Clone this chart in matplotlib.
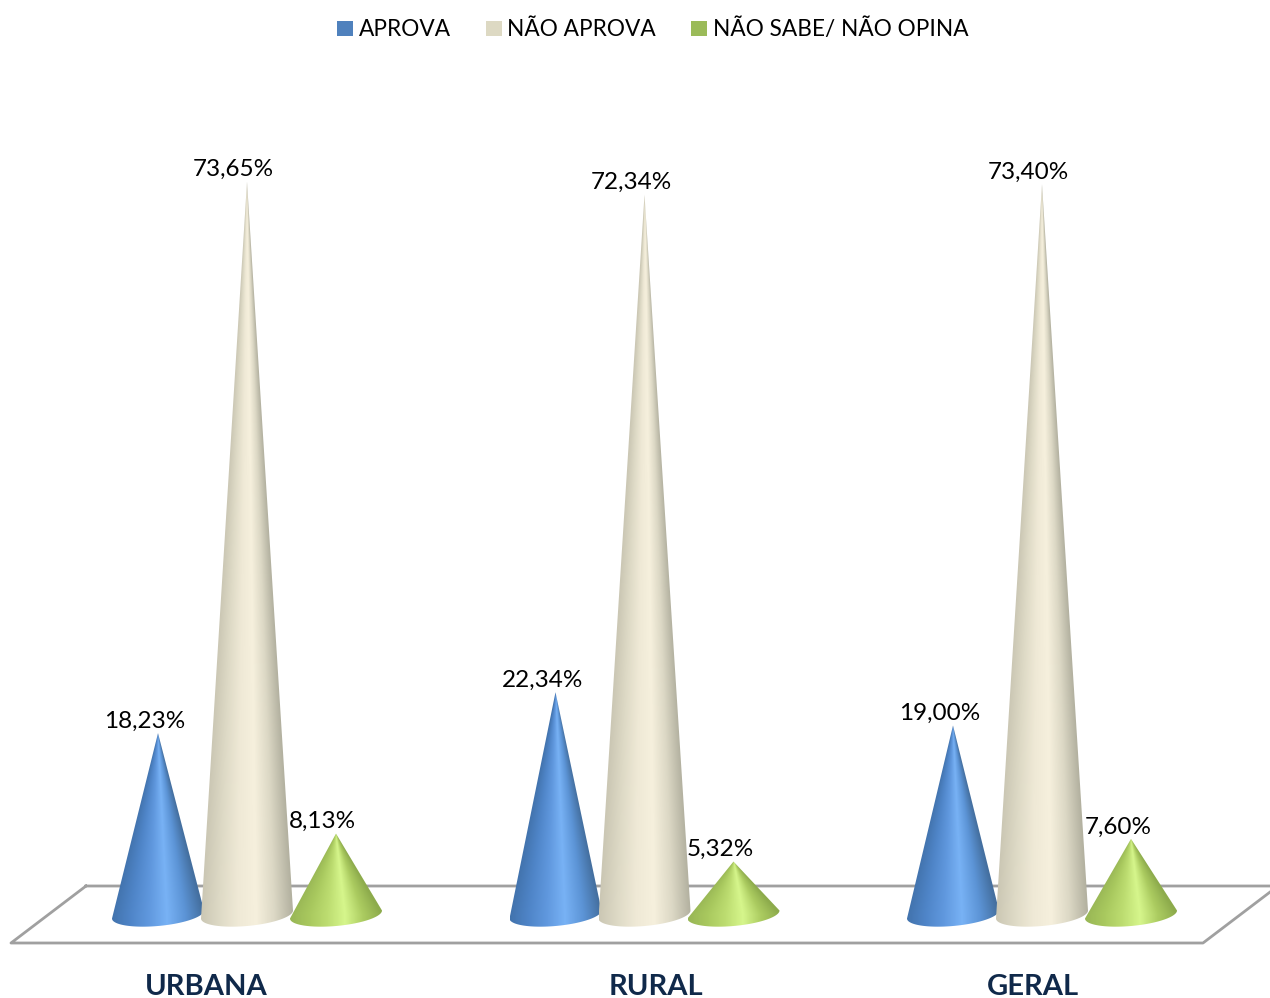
import numpy as np
import matplotlib
matplotlib.use("Agg")
import matplotlib.pyplot as plt
from matplotlib.colors import LinearSegmentedColormap
from matplotlib.patches import Patch, Polygon

plt.rcParams['font.family'] = ['Lato', 'DejaVu Sans']

categories = ["URBANA", "RURAL", "GERAL"]
series_names = ["APROVA", "NÃO APROVA", "NÃO SABE/ NÃO OPINA"]
aprova = [18.23, 22.34, 19.00]
nao_aprova = [73.65, 72.34, 73.40]
nao_sabe = [8.13, 5.32, 7.60]

legend_colors = ["#4f81bd", "#ddd9c3", "#9bbb59"]
shades = [
    ["#4273ad", "#4f85c8", "#6098de", "#78b2f5", "#5c94d6", "#446f9f"],
    ["#cbc7b4", "#dedac6", "#efe9d6", "#f6f0dd", "#dcd8c5", "#b3b1a0"],
    ["#98b655", "#a8c85e", "#bcdc70", "#d6f68c", "#abcb60", "#8dab4c"],
]

# pixel geometry of the picture expressed as axes scales
W, H = 1270, 998
PX_PER_GROUP = 397.5
PX_PER_VALUE = 9.95
FIRST_GROUP_PX = 247
BASE_PX = 914.5
OFFSET = 89 / PX_PER_GROUP
HALF_W = 46 / PX_PER_GROUP
ELL_H = 11.5 / PX_PER_VALUE
ELL_TILT = 4 / PX_PER_VALUE


def draw_cone(ax, x, value, cmap, z):
    # shade follows the cone surface: position across the width at each height
    low = -ELL_H - ELL_TILT
    xs = np.linspace(x - HALF_W, x + HALF_W, 240)
    ys = np.linspace(low, value, 700)
    gx, gy = np.meshgrid(xs, ys)
    width = HALF_W * np.clip(1 - gy / value, 1e-4, 1)
    t = np.clip((gx - x) / width, -1, 1)
    im = ax.imshow((t + 1) / 2, extent=(xs[0], xs[-1], low, value), origin="lower",
                   cmap=cmap, vmin=0, vmax=1, aspect="auto", interpolation="bilinear",
                   zorder=z)
    angles = np.linspace(np.pi, 2 * np.pi, 90)
    bx = x + HALF_W * np.cos(angles)
    by = ELL_H * np.sin(angles) + ELL_TILT * np.cos(angles)
    outline = Polygon(np.vstack([[x, value], np.column_stack([bx, by])]), closed=True,
                      transform=ax.transData, facecolor="none", edgecolor="none")
    ax.add_patch(outline)
    im.set_clip_path(outline)


fig = plt.figure(figsize=(W / 100, H / 100), dpi=100)
ax = fig.add_axes([0, 0, 1, 1])
ax.set_xlim(-FIRST_GROUP_PX / PX_PER_GROUP, (W - FIRST_GROUP_PX) / PX_PER_GROUP)
ax.set_ylim((BASE_PX - H) / PX_PER_VALUE, BASE_PX / PX_PER_VALUE)
ax.set_autoscale_on(False)
ax.axis("off")

# floor of the 3d chart
floor_x = [(86 - FIRST_GROUP_PX) / PX_PER_GROUP, (11 - FIRST_GROUP_PX) / PX_PER_GROUP,
           (1203 - FIRST_GROUP_PX) / PX_PER_GROUP, (1278 - FIRST_GROUP_PX) / PX_PER_GROUP]
floor_y = [(BASE_PX - 886) / PX_PER_VALUE, (BASE_PX - 943) / PX_PER_VALUE,
           (BASE_PX - 943) / PX_PER_VALUE, (BASE_PX - 886) / PX_PER_VALUE]
ax.plot(floor_x + floor_x[:1], floor_y + floor_y[:1], color="#a0a0a0", lw=2, zorder=1)

all_series = [aprova, nao_aprova, nao_sabe]
label_x = [206, 656, 1033]
z = 2
for g in range(len(categories)):
    for s, values in enumerate(all_series):
        x = g + (s - 1) * OFFSET
        cmap = LinearSegmentedColormap.from_list("s%d" % s, shades[s])
        draw_cone(ax, x, values[g], cmap, z)
        z += 1
        text = ("%.2f%%" % values[g]).replace(".", ",")
        ax.annotate(text, (x, values[g]), xytext=(-9.5, 1), textcoords="offset points",
                    ha="center", va="bottom", fontsize=17.5, color="black", zorder=50)
    ax.text((label_x[g] - FIRST_GROUP_PX) / PX_PER_GROUP, (BASE_PX - 987) / PX_PER_VALUE,
            categories[g], ha="center", va="center", fontsize=21, fontweight="bold",
            color="#10294a", zorder=50)

handles = [Patch(facecolor=c, edgecolor="none") for c in legend_colors]
ax.legend(handles, series_names, loc="upper center", bbox_to_anchor=(0.514, 1.0), ncol=3,
          frameon=False, fontsize=16.3, handlelength=0.7, handleheight=0.7,
          handletextpad=0.25, columnspacing=1.55, borderpad=0.33)

fig.savefig("out.png", dpi=100)
